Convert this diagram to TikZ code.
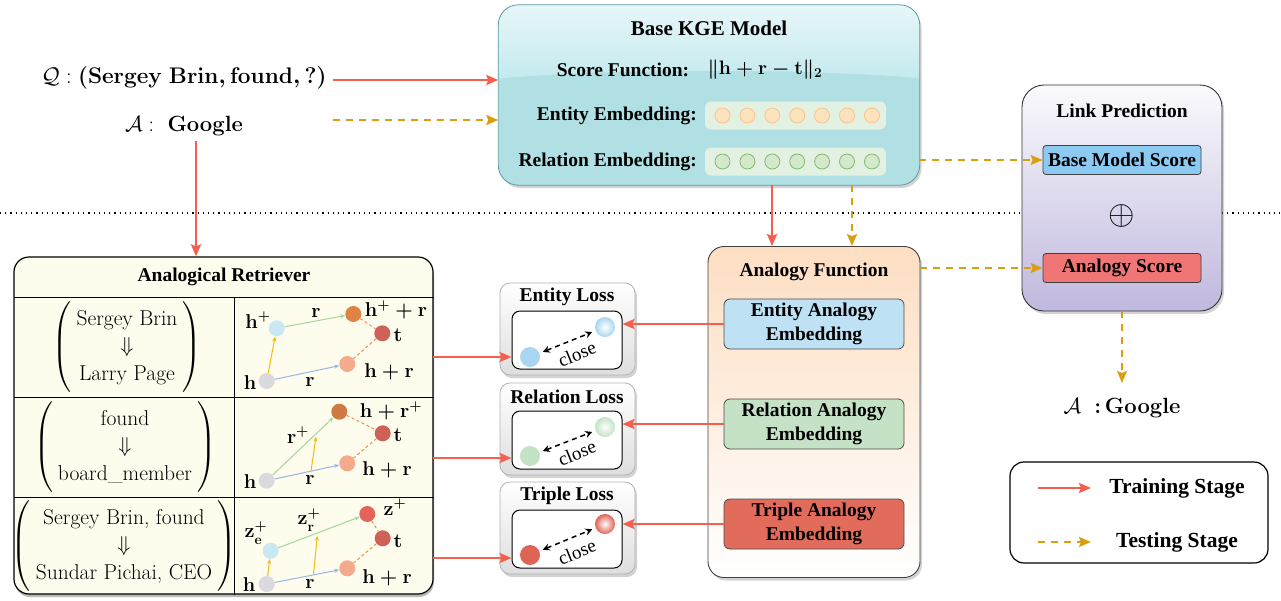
\RequirePackage{fix-cm}
\documentclass[tikz,border=0pt]{standalone}
\usepackage{amsmath,amssymb}
\usepackage{fontspec}
\usetikzlibrary{arrows.meta,shadows,calc}
\newfontfamily\tnr{Liberation Serif}
\definecolor{trainred}{RGB}{245,95,80}
\definecolor{testorange}{RGB}{216,160,16}
\definecolor{kgeteal}{RGB}{176,224,228}
\definecolor{kgetop}{RGB}{234,247,249}
\definecolor{kgemid}{RGB}{196,234,238}
\definecolor{kgeedge}{RGB}{90,155,165}
\definecolor{barfill}{RGB}{226,241,226}
\definecolor{ecfill}{RGB}{253,226,190}
\definecolor{ecdraw}{RGB}{246,196,140}
\definecolor{rcfill}{RGB}{212,232,204}
\definecolor{rcdraw}{RGB}{130,185,110}
\definecolor{lptop}{RGB}{250,250,253}
\definecolor{lpbot}{RGB}{192,184,222}
\definecolor{bmsblue}{RGB}{140,202,242}
\definecolor{asred}{RGB}{240,118,118}
\definecolor{aftop}{RGB}{253,222,194}
\definecolor{eaeblue}{RGB}{190,225,243}
\definecolor{raegreen}{RGB}{198,226,198}
\definecolor{taered}{RGB}{226,108,92}
\definecolor{cream}{RGB}{254,252,236}
\definecolor{dgray}{RGB}{218,218,222}
\definecolor{dlblue}{RGB}{200,232,242}
\definecolor{dorange}{RGB}{222,130,70}
\definecolor{dorange2}{RGB}{206,122,66}
\definecolor{dred}{RGB}{206,98,88}
\definecolor{dzred}{RGB}{226,100,90}
\definecolor{dsalmon}{RGB}{244,170,140}
\definecolor{eyel}{RGB}{245,185,20}
\definecolor{egrn}{RGB}{160,215,155}
\definecolor{eblu}{RGB}{150,182,228}
\definecolor{edash}{RGB}{240,140,80}
\definecolor{lossblue}{RGB}{168,214,240}
\definecolor{lossgreen}{RGB}{196,226,196}
\definecolor{lossred}{RGB}{222,100,86}
\tikzset{
  tb/.style={font=\tnr\bfseries\fontsize{19.5}{24}\selectfont, inner sep=0pt},
  tbt/.style={font=\tnr\bfseries\fontsize{21}{24}\selectfont, inner sep=0pt},
  mlbl/.style={font=\boldmath\fontsize{20}{22}\selectfont, inner sep=0pt},
  trainarr/.style={draw=trainred, line width=2.4pt, -{Stealth[length=12pt,width=10pt,inset=2pt]}},
  testarr/.style={draw=testorange, line width=2.2pt, dash pattern=on 7pt off 6pt, -{Stealth[length=12pt,width=10pt,inset=2pt]}},
  shad/.style={drop shadow={opacity=0.35, shadow xshift=2pt, shadow yshift=-3pt}},
  ecirc/.style={circle, minimum size=15pt, inner sep=0pt, fill=ecfill, draw=ecdraw, line width=0.8pt},
  rcirc/.style={circle, minimum size=15pt, inner sep=0pt, fill=rcfill, draw=rcdraw, line width=0.8pt},
  ebar/.style={rounded corners=6pt, fill=barfill, minimum width=181pt, minimum height=28pt, inner sep=0pt},
  scorebox/.style={tb, rounded corners=3pt, draw=black!75, line width=0.8pt, minimum width=158pt, minimum height=29pt},
  embbox/.style={tb, align=center, rounded corners=6pt, draw=black!70, line width=0.8pt, minimum width=180pt, minimum height=50pt},
  lossbox/.style={rounded corners=10pt, draw=black!30, line width=0.8pt, top color=white, bottom color=black!13, minimum width=135pt, minimum height=92pt, shad},
  lossin/.style={rounded corners=8pt, draw=black, line width=1pt, fill=white, minimum width=110pt, minimum height=58pt},
  ldot/.style={circle, minimum size=20pt, inner sep=0pt, fill=#1},
  lball/.style={circle, minimum size=20pt, inner sep=0pt, inner color=white, outer color=#1},
  closearr/.style={draw=black, line width=1.5pt, dash pattern=on 5pt off 4pt, {Stealth[length=7pt,width=7pt]}-{Stealth[length=7pt,width=7pt]}},
  closelbl/.style={font=\tnr\fontsize{19}{22}\selectfont, inner sep=0pt, rotate=22},
  dot/.style={circle, minimum size=16pt, inner sep=0pt, fill=#1},
  ey/.style={draw=eyel, line width=1pt, -{Stealth[length=5pt,width=4pt]}},
  eg/.style={draw=egrn, line width=1pt, -{Stealth[length=5pt,width=4pt]}},
  eb/.style={draw=eblu, line width=1pt, -{Stealth[length=5pt,width=4pt]}},
  ed/.style={draw=edash, line width=1pt, dash pattern=on 3pt off 2.5pt},
  mtx/.style={inner sep=0pt, font=\fontsize{21.5}{25}\selectfont},
}
\begin{document}
\begin{tikzpicture}[x=1pt,y=-1pt]
\useasboundingbox (0,0) rectangle (1281,600);
% dotted separator
\coordinate (sepL) at (0,213);
\coordinate (sepR) at (1281,213);
\draw[black, line width=1.1pt, dash pattern=on 1.2pt off 4pt] (sepL) -- (sepR);

% ---------------- Query -----------------
\node[inner sep=0pt, font=\fontsize{22.6}{26}\selectfont] (q) at (184,78) {$\mathcal{Q}:{}${\boldmath$\mathbf{(Sergey\ Brin,found,?)}$}};
\node[inner sep=0pt, font=\fontsize{22}{24}\selectfont] (a) at (184,126) {$\mathcal{A}:$\ \ \textbf{Google}};
\coordinate (qout) at (333,80);
\coordinate (aout) at (333,120);
\coordinate (adown) at (196,141);

% ---------------- Base KGE -----------------
\node[rounded corners=20pt, fill=kgeteal, minimum width=421pt, minimum height=180pt, shad] (kge) at (709,95) {};
\begin{scope}
  \clip[rounded corners=20pt] (kge.north west) rectangle (kge.south east);
  \shade[top color=kgetop, bottom color=kgemid] (495,0) -- (925,0) -- (925,79) .. controls (820,68) and (600,68) .. (495,79) -- cycle;
\end{scope}
\draw[rounded corners=20pt, draw=kgeedge, line width=0.8pt] (kge.north west) rectangle (kge.south east);
\node[tbt] (kgetitle) at (709,28) {Base KGE Model};
\node[tb] (sf) at (623,70) {Score Function:};
\node[inner sep=0pt, font=\boldmath\fontsize{19.5}{24}\selectfont] (sfm) at (765,70) {$\|\mathbf{h}+\mathbf{r}-\mathbf{t}\|_2$};
\node[tb, anchor=east] (eemb) at (697,116) {Entity Embedding:};
\node[tb, anchor=east] (remb) at (697,162) {Relation Embedding:};
\node[ebar] (ebarn) at (795.5,115.5) {};
\node[ebar] (rbarn) at (795.5,161.5) {};
\foreach \i in {0,...,6} {
  \node[ecirc] (ec\i) at (722.5+24.9*\i,115.5) {};
  \node[rcirc] (rc\i) at (722.5+24.9*\i,161.5) {};
}

% ---------------- Link prediction -----------------
\node[rounded corners=22pt, draw=black!80, line width=0.9pt, top color=lptop, bottom color=lpbot, minimum width=200pt, minimum height=226pt, shad] (lp) at (1122,198) {};
\node[tb] (lptitle) at (1122,111) {Link Prediction};
\node[scorebox, fill=bmsblue] (bms) at (1122,160) {Base Model Score};
\node[inner sep=0pt, font=\fontsize{34}{34}\selectfont] (oplus) at (1122,216) {$\oplus$};
\node[scorebox, fill=asred] (asc) at (1122,268) {Analogy Score};

\node[inner sep=0pt, font=\fontsize{22}{24}\selectfont] (ans) at (1122,408) {$\mathcal{A}$\ \ $\boldsymbol{:}$\,\textbf{Google}};

% ---------------- Analogy function -----------------
\node[rounded corners=16pt, draw=black!75, line width=0.9pt, top color=aftop, bottom color=white, minimum width=212pt, minimum height=331pt, shad] (af) at (814,412) {};
\node[tb] (aftitle) at (814,272) {Analogy Function};
\node[embbox, fill=eaeblue] (eae) at (814,324) {Entity Analogy\\Embedding};
\node[embbox, fill=raegreen] (rae) at (814,424) {Relation Analogy\\Embedding};
\node[embbox, fill=taered] (tae) at (814,524) {Triple Analogy\\Embedding};

% ---------------- Loss boxes -----------------
\node[lossbox] (el) at (567.5,329) {};
\node[tb] (elt) at (567,297) {Entity Loss};
\node[lossin] (eli) at (567,340) {};
\node[lossbox] (rl) at (567.5,429) {};
\node[tb] (rlt) at (567,397) {Relation Loss};
\node[lossin] (rli) at (567,440) {};
\node[lossbox] (tl) at (567.5,528) {};
\node[tb] (tlt) at (567,496) {Triple Loss};
\node[lossin] (tli) at (567,539) {};

\node[ldot=lossblue] (e1) at (530,357) {};
\node[lball=lossblue] (e2) at (605,327) {};
\node[ldot=lossgreen] (r1) at (530,456) {};
\node[lball=lossgreen] (r2) at (605,427) {};
\node[ldot=lossred] (t1) at (530,555) {};
\node[lball=lossred] (t2) at (605,524) {};
\draw[closearr] ($(e1)!0.17!(e2)$) -- ($(e1)!0.83!(e2)$);
\draw[closearr] ($(r1)!0.17!(r2)$) -- ($(r1)!0.83!(r2)$);
\draw[closearr] ($(t1)!0.17!(t2)$) -- ($(t1)!0.83!(t2)$);
\node[closelbl] (c1) at (577,354) {close};
\node[closelbl] (c2) at (577,453) {close};
\node[closelbl] (c3) at (577,552) {close};

% ---------------- Analogical retriever -----------------
\node[rounded corners=15pt, draw=black, line width=1.2pt, fill=cream, minimum width=419pt, minimum height=337pt, drop shadow={opacity=0.55, shadow xshift=1pt, shadow yshift=-3pt}] (ar) at (223.5,425.5) {};
\node[tb] (artitle) at (224,277) {Analogical Retriever};
\coordinate (rl1) at (14,297);
\coordinate (rl2) at (14,397);
\coordinate (rl3) at (14,497);
\draw[black, line width=0.9pt] (rl1) -- (rl1 -| ar.east);
\draw[black, line width=0.9pt] (rl2) -- (rl2 -| ar.east);
\draw[black, line width=0.9pt] (rl3) -- (rl3 -| ar.east);
\coordinate (vtop) at (234,297);
\draw[black, line width=0.9pt] (vtop) -- (vtop |- ar.south);

\renewcommand{\arraystretch}{1.1}
\node[mtx] (m1) at (127,347) {$\left(\begin{array}{c}\text{Sergey Brin}\\ \Downarrow\\ \text{Larry Page}\end{array}\right)$};
\node[mtx] (m2) at (125,447) {$\left(\begin{array}{c}\ \ \text{found}\ \ \\ \Downarrow\\ \text{board\_member}\end{array}\right)$};
\node[mtx] (m3) at (124,546) {$\left(\begin{array}{c}\text{Sergey Brin, found}\\ \Downarrow\\ \text{Sundar Pichai, CEO}\end{array}\right)$};

% row 1 diagram
\node[dot=dgray] (h1) at (266.7,381) {};
\node[dot=dlblue] (hp1) at (276.7,328.3) {};
\node[dot=dorange] (hpr1) at (353.3,314) {};
\node[dot=dred] (t1d) at (382.3,333.3) {};
\node[dot=dsalmon] (hr1) at (347.3,364) {};
\draw[ey] (h1) -- (hp1);
\draw[eg] (hp1) -- (hpr1);
\draw[eb] (h1) -- (hr1);
\draw[ed] (hpr1) -- (t1d);
\draw[ed] (t1d) -- (hr1);
\node[mlbl] at (258,320) {$\mathbf{h}^{+}$};
\node[mlbl] at (316,313) {$\mathbf{r}$};
\node[mlbl] at (396,310) {$\mathbf{h}^{+}+\mathbf{r}$};
\node[mlbl] at (398,335) {$\mathbf{t}$};
\node[mlbl] at (389,372) {$\mathbf{h}+\mathbf{r}$};
\node[mlbl] at (250,383) {$\mathbf{h}$};
\node[mlbl] at (310,382) {$\mathbf{r}$};

% row 2 diagram
\node[dot=dgray] (h2) at (266.7,480.7) {};
\node[dot=dorange2] (hrp2) at (339.3,411.7) {};
\node[dot=dred] (t2d) at (382.7,433.3) {};
\node[dot=dsalmon] (hr2) at (347.3,463.3) {};
\draw[eg] (h2) -- (hrp2);
\draw[eb] (h2) -- (hr2);
\coordinate (y2a) at ($(h2)!0.55!(hr2)$);
\coordinate (y2b) at (316,436.7);
\draw[ey] (y2a) -- (y2b);
\draw[ed] (hrp2) -- (t2d);
\draw[ed] (t2d) -- (hr2);
\node[mlbl] at (298,435) {$\mathbf{r}^{+}$};
\node[mlbl] at (391,411) {$\mathbf{h}+\mathbf{r}^{+}$};
\node[mlbl] at (398,435) {$\mathbf{t}$};
\node[mlbl] at (387,470) {$\mathbf{h}+\mathbf{r}$};
\node[mlbl] at (250,482) {$\mathbf{h}$};
\node[mlbl] at (310,480) {$\mathbf{r}$};

% row 3 diagram
\node[dot=dgray] (h3) at (266.7,584) {};
\node[dot=dlblue] (ze3) at (270.7,550.7) {};
\node[dot=dzred] (z3) at (367.3,514) {};
\node[dot=dred] (t3d) at (382.7,538.3) {};
\node[dot=dsalmon] (hr3) at (347.3,568.3) {};
\draw[ey] (h3) -- (ze3);
\draw[eg] (ze3) -- (z3);
\draw[eb] (h3) -- (hr3);
\coordinate (y3a) at ($(h3)!0.58!(hr3)$);
\coordinate (y3b) at (317.3,535.7);
\draw[ey] (y3a) -- (y3b);
\draw[ed] (z3) -- (t3d);
\draw[ed] (t3d) -- (hr3);
\node[mlbl] at (256,533) {$\mathbf{z}_{\mathbf{e}}^{+}$};
\node[mlbl] at (309,520) {$\mathbf{z}_{\mathbf{r}}^{+}$};
\node[mlbl] at (395,507) {$\mathbf{z}^{+}$};
\node[mlbl] at (398,541) {$\mathbf{t}$};
\node[mlbl] at (387,578) {$\mathbf{h}+\mathbf{r}$};
\node[mlbl] at (249,585) {$\mathbf{h}$};
\node[mlbl] at (310,584) {$\mathbf{r}$};

% ---------------- Legend -----------------
\node[rounded corners=14pt, draw=black, line width=1.2pt, fill=white, minimum width=258pt, minimum height=101pt] (leg) at (1139,512.5) {};
\coordinate (lg1a) at (1038,488);
\coordinate (lg1b) at (1091,488);
\coordinate (lg2a) at (1038,542);
\coordinate (lg2b) at (1091,542);
\draw[trainarr] (lg1a) -- (lg1b);
\draw[testarr] (lg2a) -- (lg2b);
\node[font=\tnr\bfseries\fontsize{21.5}{24}\selectfont, inner sep=0pt] (lgt1) at (1177,488) {Training Stage};
\node[font=\tnr\bfseries\fontsize{21.5}{24}\selectfont, inner sep=0pt] (lgt2) at (1177,542) {Testing Stage};

% ---------------- Connectors -----------------
\draw[trainarr] (qout) -- (kge.west |- qout);
\draw[testarr] (aout) -- (kge.west |- aout);
\draw[trainarr] (adown) -- (adown |- ar.north);
\coordinate (kd1) at (772,185);
\coordinate (kd2) at (852,185);
\draw[trainarr] (kd1) -- (kd1 |- af.north);
\draw[testarr] (kd2) -- (kd2 |- af.north);
\coordinate (kr) at (919,160);
\draw[testarr] (kr) -- (bms.west |- kr);
\coordinate (afr) at (920,268);
\draw[testarr] (afr) -- (asc.west |- afr);
\coordinate (lpd) at (1122,311);
\coordinate (ansn) at (1122,383);
\draw[testarr] (lpd) -- (ansn);
% retriever -> losses
\coordinate (ra1) at (433,357);
\coordinate (ra2) at (433,458);
\coordinate (ra3) at (433,558);
\draw[trainarr] (ra1) -- (eli.west |- ra1);
\draw[trainarr] (ra2) -- (rli.west |- ra2);
\draw[trainarr] (ra3) -- (tli.west |- ra3);
% embeddings -> losses
\draw[trainarr] (eae.west) -- (eli.east |- eae.west);
\draw[trainarr] (rae.west) -- (rli.east |- rae.west);
\draw[trainarr] (tae.west) -- (tli.east |- tae.west);
\end{tikzpicture}
\end{document}
